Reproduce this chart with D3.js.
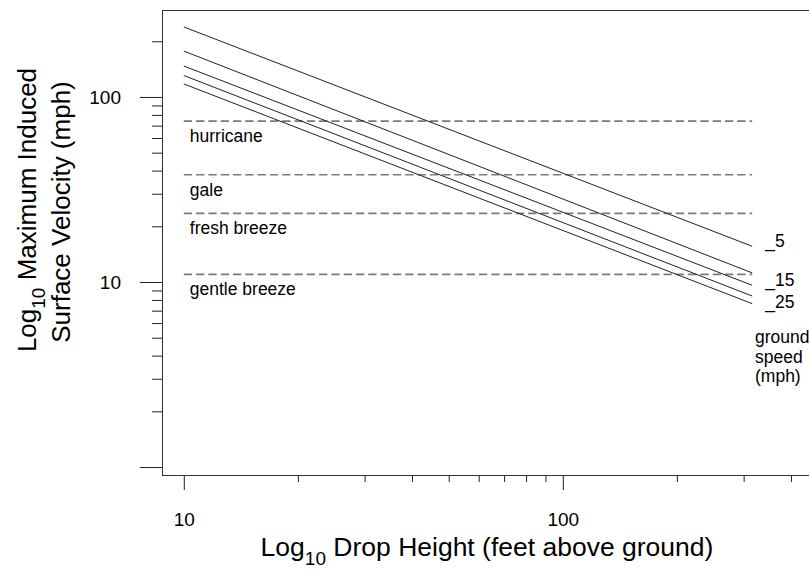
<!DOCTYPE html>
<html><head><meta charset="utf-8">
<script src="https://cdn.jsdelivr.net/npm/d3@7"></script>
<style>
body{margin:0;background:#fff;}
svg{display:block;}
text{font-family:Arial,"Liberation Sans",sans-serif;fill:#000;}
</style>
</head><body>
<svg id="chart" width="809" height="571"></svg>
<script>
// ---- data ----
const dropHeights = [10, 316];            // feet above ground (line end points)
const groundSpeeds = [5, 10, 15, 20, 25]; // mph
const velocityGround5  = [239, 15.6];
const velocityGround10 = [177, 11.2];
const velocityGround15 = [147, 9.6];
const velocityGround20 = [130.6, 8.4];
const velocityGround25 = [117.6, 7.64];
const windLabels = ["hurricane", "gale", "fresh breeze", "gentle breeze"];
const windSpeeds = [74, 38, 23.5, 11];
const lineLabels = ["_5", "_15", "_25"];
const labelledSeries = [0, 2, 4];
const groundLegend = ["ground", "speed", "(mph)"];
const xMajorTicks = [10, 100];
const xTickLabels = ["10", "100"];
const xMinorTicks = [20, 30, 40, 50, 60, 70, 80, 90, 200, 300, 400];
const yMajorTicks = [1, 10, 100];
const yTickLabels = ["", "10", "100"];
const yMinorTicks = [2, 3, 4, 5, 6, 7, 8, 9, 20, 30, 40, 50, 60, 70, 80, 90, 200];

const series = [velocityGround5, velocityGround10, velocityGround15, velocityGround20, velocityGround25];

// ---- scales ----
const svg = d3.select("#chart");
const x = d3.scaleLog().domain([Math.pow(10, 0.9425), Math.pow(10, 2.6496)]).range([162, 809]);
const y = d3.scaleLog().domain([Math.pow(10, -0.043), Math.pow(10, 2.470)]).range([475, 10]);

// ---- axes ----
const yMajorAxis = d3.axisLeft(y).tickValues(yMajorTicks).tickSize(22).tickPadding(19)
  .tickFormat((d, i) => yTickLabels[i]);
const yMinorAxis = d3.axisLeft(y).tickValues(yMinorTicks).tickSize(10).tickFormat("");
const xMajorAxis = d3.axisBottom(x).tickValues(xMajorTicks).tickSize(15).tickPadding(23)
  .tickFormat((d, i) => xTickLabels[i]);
const xMinorAxis = d3.axisBottom(x).tickValues(xMinorTicks).tickSize(7).tickFormat("");

function styleAxis(g) {
  g.select(".domain").remove();
  g.attr("color", "#222");
  g.selectAll("text").style("font-size", "19px").attr("fill", "#000")
    .style("font-family", "Arial, 'Liberation Sans', sans-serif");
}
svg.append("g").attr("transform", "translate(162,0)").call(yMajorAxis).call(styleAxis);
svg.append("g").attr("transform", "translate(162,0)").call(yMinorAxis).call(styleAxis);
svg.append("g").attr("transform", "translate(0,475)").call(xMajorAxis).call(styleAxis);
svg.append("g").attr("transform", "translate(0,475)").call(xMinorAxis).call(styleAxis);

// frame
svg.append("rect").attr("x", 162.5).attr("y", 10.5).attr("width", 700).attr("height", 465)
  .attr("fill", "none").attr("stroke", "#333").attr("stroke-width", 1);

// ---- wind threshold lines ----
const xStart = dropHeights[0], xEnd = dropHeights[dropHeights.length - 1];
windSpeeds.forEach((w, i) => {
  svg.append("line")
    .attr("x1", x(xStart)).attr("x2", x(xEnd))
    .attr("y1", y(w)).attr("y2", y(w))
    .attr("stroke", "#7a7a7a").attr("stroke-width", 1.6)
    .attr("stroke-dasharray", "8.3,4");
  svg.append("text")
    .attr("x", x(xStart) + 6).attr("y", y(w) + 21)
    .style("font-size", "17.5px")
    .text(windLabels[i]);
});

// ---- velocity lines ----
const line = d3.line().x((d, i) => x(dropHeights[i])).y(d => y(d));
series.forEach((s) => {
  svg.append("path").datum(s).attr("d", line)
    .attr("fill", "none").attr("stroke", "#222").attr("stroke-width", 1);
});

// ---- line labels ----
labelledSeries.forEach((si, k) => {
  const s = series[si];
  svg.append("text")
    .attr("x", x(xEnd) + 13).attr("y", y(s[s.length - 1]) + 1 + (k === 2 ? 3 : 0))
    .style("font-size", "17.5px")
    .text(lineLabels[k]);
});
groundLegend.forEach((t, i) => {
  svg.append("text")
    .attr("x", 755).attr("y", 343 + i * 19.5)
    .style("font-size", "17.5px")
    .text(t);
});

// ---- axis titles ----
const xt = svg.append("text").attr("x", 487).attr("y", 556).attr("text-anchor", "middle")
  .style("font-size", "26.5px");
xt.append("tspan").text("Log");
xt.append("tspan").attr("dy", 9).style("font-size", "19px").text("10");
xt.append("tspan").attr("dy", -9).text(" Drop Height (feet above ground)");

const yt1 = svg.append("text").attr("transform", "translate(36,210) rotate(-90)")
  .attr("text-anchor", "middle").style("font-size", "26px");
yt1.append("tspan").text("Log");
yt1.append("tspan").attr("dy", 9).style("font-size", "19px").text("10");
yt1.append("tspan").attr("dy", -9).text(" Maximum Induced");

svg.append("text").attr("transform", "translate(70,212) rotate(-90)")
  .attr("text-anchor", "middle").style("font-size", "26px")
  .text("Surface Velocity (mph)");
</script>
</body></html>
